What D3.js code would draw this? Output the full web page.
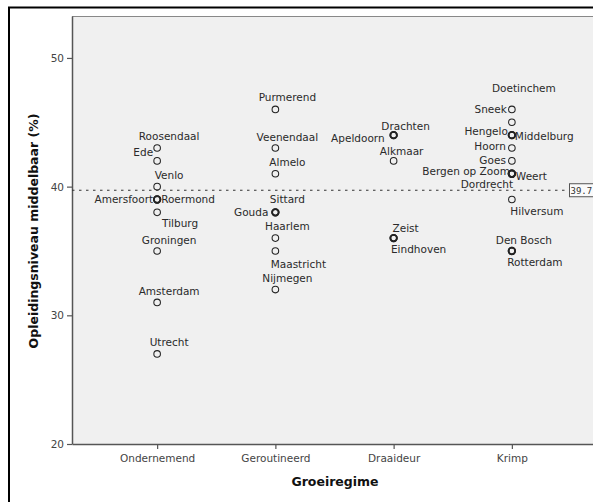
<!DOCTYPE html>
<html><head><meta charset="utf-8">
<script src="https://cdn.jsdelivr.net/npm/d3@7"></script>
<style>
html,body{margin:0;padding:0;background:#fff;}
svg{display:block;}
</style></head>
<body>
<script>
// ---- data ----
const categories = ["Ondernemend", "Geroutineerd", "Draaideur", "Krimp"];
const cityNames = [
  "Roosendaal","Ede","Venlo","Amersfoort","Roermond","Tilburg","Groningen","Amsterdam","Utrecht",
  "Purmerend","Veenendaal","Almelo","Sittard","Gouda","Haarlem","Maastricht","Nijmegen",
  "Drachten","Apeldoorn","Alkmaar","Zeist","Eindhoven",
  "Doetinchem","Sneek","Hengelo","Middelburg","Hoorn","Goes","Bergen op Zoom","Weert","Dordrecht","Hilversum","Den Bosch","Rotterdam"
];
const cityRegime = [
  "Ondernemend","Ondernemend","Ondernemend","Ondernemend","Ondernemend","Ondernemend","Ondernemend","Ondernemend","Ondernemend",
  "Geroutineerd","Geroutineerd","Geroutineerd","Geroutineerd","Geroutineerd","Geroutineerd","Geroutineerd","Geroutineerd",
  "Draaideur","Draaideur","Draaideur","Draaideur","Draaideur",
  "Krimp","Krimp","Krimp","Krimp","Krimp","Krimp","Krimp","Krimp","Krimp","Krimp","Krimp","Krimp"
];
const cityValues = [
  43,42,40,39,39,38,35,31,27,
  46,43,41,38,38,36,35,32,
  44,44,42,36,36,
  45,46,44,44,43,42,41,41,41,39,35,35
];
const yTicks = [20, 30, 40, 50];
const meanValue = 39.72;
const meanLabel = "39.7";
const xTitle = "Groeiregime";
const yTitle = "Opleidingsniveau middelbaar (%)";

// ---- label placement (layout, per city: dx, dy, anchor) ----
const labelPlacement = [
  [12,-12,"middle"],[-4,-9,"end"],[12,-11,"middle"],[-4,0,"end"],[4,0,"start"],[23,11,"middle"],[12,-11,"middle"],[12,-11,"middle"],[12,-12,"middle"],
  [12,-12,"middle"],[12,-11,"middle"],[12,-12,"middle"],[12,-13,"middle"],[-7,0,"end"],[12,-12,"middle"],[23,13,"middle"],[12,-11,"middle"],
  [12,-9,"middle"],[-9,3,"end"],[8,-10,"middle"],[12,-10,"middle"],[25,11,"middle"],
  [12,-34,"middle"],[-5,0,"end"],[-4,-4,"end"],[3,1,"start"],[-6,-2,"end"],[-6,-1,"end"],[-2,-3,"end"],[4,2,"start"],[-25,10,"middle"],[25,12,"middle"],[12,-11,"middle"],[23,11,"middle"]
];

// ---- drawing ----
const W = 593, H = 502;
const plot = {left: 72, top: 16, right: 597, bottom: 444};
const svg = d3.select("body").append("svg").attr("width", W).attr("height", H);

// outer frame
svg.append("rect").attr("x", 9).attr("y", 7.5).attr("width", W + 20).attr("height", H + 20)
  .attr("fill", "#fff").attr("stroke", "#000").attr("stroke-width", 2);

// plot background
svg.append("rect").attr("x", plot.left).attr("y", plot.top)
  .attr("width", plot.right - plot.left).attr("height", plot.bottom - plot.top)
  .attr("fill", "#f0f0f0");
svg.append("line").attr("x1", plot.left).attr("x2", W).attr("y1", plot.top + 0.5).attr("y2", plot.top + 0.5)
  .attr("stroke", "#888").attr("stroke-width", 1);

const x = d3.scalePoint().domain(categories).range([plot.left, plot.right]).padding(0.72);
const y = d3.scaleLinear().domain([20, 53.26]).range([plot.bottom, plot.top]);

const font = "'DejaVu Sans', Verdana, sans-serif";

// axes
const yAxis = svg.append("g").attr("transform", `translate(${plot.left},0)`)
  .call(d3.axisLeft(y).tickValues(yTicks).tickSize(5).tickSizeOuter(0).tickPadding(3));
const xAxis = svg.append("g").attr("transform", `translate(0,${plot.bottom})`)
  .call(d3.axisBottom(x).tickSize(5).tickSizeOuter(0).tickPadding(6));
[yAxis, xAxis].forEach(g => {
  g.select(".domain").attr("stroke", "#555").attr("stroke-width", 1.5);
  g.selectAll(".tick line").attr("stroke", "#555").attr("stroke-width", 1.2);
  g.selectAll("text").attr("fill", "#444").style("font-family", font).style("font-size", "10.5px");
});

// mean reference line
const yMean = y(meanValue);
svg.append("line").attr("x1", plot.left).attr("x2", 566).attr("y1", yMean).attr("y2", yMean)
  .attr("stroke", "#333").attr("stroke-width", 1.2).attr("stroke-dasharray", "2.5,4.5");
svg.append("rect").attr("x", 569.5).attr("y", yMean - 6.5).attr("width", 40).attr("height", 13)
  .attr("fill", "#fafafa").attr("stroke", "#555").attr("stroke-width", 1);
svg.append("text").attr("x", 570.5).attr("y", yMean + 3.5)
  .style("font-family", "'DejaVu Sans Mono', 'Liberation Mono', monospace").style("font-size", "9px")
  .attr("fill", "#333").text(meanLabel);

// points
const points = cityNames.map((n, i) => ({name: n, regime: cityRegime[i], value: cityValues[i], place: labelPlacement[i]}));
const counts = d3.rollup(points, v => v.length, d => d.regime + "|" + d.value);

svg.append("g").selectAll("circle").data(points).join("circle")
  .attr("cx", d => x(d.regime)).attr("cy", d => y(d.value)).attr("r", 3.3)
  .attr("fill", "none").attr("stroke", "#222")
  .attr("stroke-width", d => counts.get(d.regime + "|" + d.value) > 1 ? 1.7 : 1.05);

svg.append("g").selectAll("text").data(points).join("text")
  .attr("x", d => x(d.regime) + d.place[0]).attr("y", d => y(d.value) + d.place[1])
  .attr("dy", "0.36em").attr("text-anchor", d => d.place[2])
  .style("font-family", font).style("font-size", "10.5px").attr("fill", "#2a2a2a")
  .text(d => d.name);

// axis titles
svg.append("text").attr("x", 335).attr("y", 486).attr("text-anchor", "middle")
  .style("font-family", font).style("font-size", "12.5px").style("font-weight", "bold").attr("fill", "#111")
  .text(xTitle);
svg.append("text").attr("transform", `translate(38,${(plot.top + plot.bottom) / 2 + 1}) rotate(-90)`)
  .attr("text-anchor", "middle")
  .style("font-family", font).style("font-size", "12.5px").style("font-weight", "bold").attr("fill", "#111")
  .text(yTitle);
</script>
</body></html>
